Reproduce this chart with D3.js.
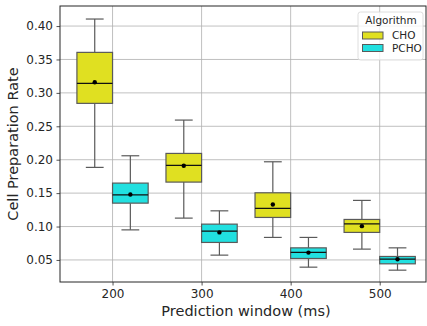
<!DOCTYPE html>
<html lang="en">
<head>
  <meta charset="UTF-8">
  <title>Cell Preparation Rate boxplot</title>
  <script src="https://d3js.org/d3.v7.min.js"></script>
  <style>
    body {
      margin: 0;
      background: #fff;
      font-family: "DejaVu Sans", sans-serif;
    }
    .grid line {
      stroke: #b0b0b0;
      stroke-width: 0.8px;
    }
    .tick text {
      font-size: 12px;
      fill: #262626;
    }
    .axis-label {
      font-size: 14.5px;
      fill: #262626;
    }
  </style>
</head>
<body>
  <div id="chart"></div>

  <script>
    const windows = ["200", "300", "400", "500"];
    const algorithms = ["CHO", "PCHO"];
    const yTicks = [0.05, 0.10, 0.15, 0.20, 0.25, 0.30, 0.35, 0.40];

    // per window: [whisker low, q1, median, q3, whisker high], plus mean
    const choStats = [
      [0.1885, 0.2843, 0.3142, 0.3606, 0.4105],
      [0.1126, 0.1665, 0.1915, 0.2094, 0.2593],
      [0.0837, 0.1136, 0.1271, 0.1505, 0.1969],
      [0.0662, 0.0912, 0.1041, 0.1106, 0.1391]
    ];
    const choMeans = [0.316, 0.191, 0.133, 0.1006];

    const pchoStats = [
      [0.0950, 0.1350, 0.1475, 0.1650, 0.2059],
      [0.0572, 0.0762, 0.0931, 0.1036, 0.1235],
      [0.0392, 0.0522, 0.0612, 0.0681, 0.0837],
      [0.0347, 0.0442, 0.0512, 0.0552, 0.0681]
    ];
    const pchoMeans = [0.148, 0.0912, 0.061, 0.051];

    const colors = { CHO: "#e0e021", PCHO: "#21e0e0" };

    const W = 427, H = 326;
    const margin = { top: 6, right: 1, bottom: 44, left: 60 };
    const width = W - margin.left - margin.right;
    const height = H - margin.top - margin.bottom;

    const svg = d3.select("#chart")
      .append("svg")
      .attr("width", W)
      .attr("height", H);

    const g = svg.append("g")
      .attr("transform", `translate(${margin.left},${margin.top})`);

    // categorical index -> x, seaborn style with dodge
    const x = d3.scaleLinear().domain([-0.59, 3.52]).range([0, width]);
    const y = d3.scaleLinear().domain([0.017, 0.43]).range([height, 0]);

    // grid
    g.append("g")
      .attr("class", "grid")
      .selectAll("line.h")
      .data(yTicks)
      .enter()
      .append("line")
      .attr("x1", 0)
      .attr("x2", width)
      .attr("y1", d => y(d))
      .attr("y2", d => y(d));

    g.select(".grid")
      .selectAll("line.v")
      .data(windows)
      .enter()
      .append("line")
      .attr("x1", (d, i) => x(i))
      .attr("x2", (d, i) => x(i))
      .attr("y1", 0)
      .attr("y2", height);

    const boxW = x(0.4) - x(0);
    const series = [
      { name: "CHO", stats: choStats, means: choMeans, offset: -0.2 },
      { name: "PCHO", stats: pchoStats, means: pchoMeans, offset: 0.2 }
    ];

    series.forEach(s => {
      const grp = g.append("g");
      s.stats.forEach((st, i) => {
        const cx = x(i + s.offset);
        const [lo, q1, med, q3, hi] = st;
        // whiskers
        grp.append("line")
          .attr("x1", cx).attr("x2", cx)
          .attr("y1", y(hi)).attr("y2", y(q3))
          .attr("stroke", "#5a5a5a").attr("stroke-width", 1.2);
        grp.append("line")
          .attr("x1", cx).attr("x2", cx)
          .attr("y1", y(q1)).attr("y2", y(lo))
          .attr("stroke", "#5a5a5a").attr("stroke-width", 1.2);
        // caps
        [lo, hi].forEach(v => {
          grp.append("line")
            .attr("x1", cx - boxW / 4).attr("x2", cx + boxW / 4)
            .attr("y1", y(v)).attr("y2", y(v))
            .attr("stroke", "#5a5a5a").attr("stroke-width", 1.2);
        });
        // box
        grp.append("rect")
          .attr("x", cx - boxW / 2)
          .attr("width", boxW)
          .attr("y", y(q3))
          .attr("height", y(q1) - y(q3))
          .attr("fill", colors[s.name])
          .attr("stroke", "#5a5a5a")
          .attr("stroke-width", 1.2);
        // median
        grp.append("line")
          .attr("x1", cx - boxW / 2).attr("x2", cx + boxW / 2)
          .attr("y1", y(med)).attr("y2", y(med))
          .attr("stroke", "#111").attr("stroke-width", 1.2);
        // mean
        grp.append("circle")
          .attr("cx", cx)
          .attr("cy", y(s.means[i]))
          .attr("r", 2.2)
          .attr("fill", "#000");
      });
    });

    // axes
    const yAxis = d3.axisLeft(y)
      .tickValues(yTicks)
      .tickFormat(d3.format(".2f"))
      .tickSize(3.5)
      .tickPadding(3.5);
    const yG = g.append("g").call(yAxis);

    const xAxis = d3.axisBottom(x)
      .tickValues(d3.range(windows.length))
      .tickFormat(i => windows[i])
      .tickSize(3.5)
      .tickPadding(3.5);
    const xG = g.append("g")
      .attr("transform", `translate(0,${height})`)
      .call(xAxis);

    [yG, xG].forEach(a => {
      a.select(".domain").remove();
      a.selectAll(".tick line").attr("stroke", "#262626").attr("stroke-width", 0.8);
      a.selectAll(".tick text").attr("font-family", "DejaVu Sans");
    });

    // frame
    g.append("rect")
      .attr("width", width)
      .attr("height", height)
      .attr("fill", "none")
      .attr("stroke", "#262626")
      .attr("stroke-width", 1);

    // axis labels
    svg.append("text")
      .attr("class", "axis-label")
      .attr("x", 246)
      .attr("y", H - 10)
      .attr("text-anchor", "middle")
      .text("Prediction window (ms)");

    svg.append("text")
      .attr("class", "axis-label")
      .attr("transform", `translate(18,${margin.top + height / 2}) rotate(-90)`)
      .attr("text-anchor", "middle")
      .text("Cell Preparation Rate");

    // legend
    const lg = svg.append("g").attr("transform", "translate(358,12)");
    lg.append("rect")
      .attr("width", 65)
      .attr("height", 48)
      .attr("rx", 2.5)
      .attr("fill", "rgba(255,255,255,0.8)")
      .attr("stroke", "#d6d6d6")
      .attr("stroke-width", 0.8);
    lg.append("text")
      .attr("x", 33)
      .attr("y", 12)
      .attr("text-anchor", "middle")
      .attr("font-size", "10.5px")
      .attr("fill", "#262626")
      .text("Algorithm");
    algorithms.forEach((a, i) => {
      lg.append("rect")
        .attr("x", 4.5)
        .attr("y", 20 + i * 12.5)
        .attr("width", 20.5)
        .attr("height", 7)
        .attr("fill", colors[a])
        .attr("stroke", "#5a5a5a")
        .attr("stroke-width", 1);
      lg.append("text")
        .attr("x", 34)
        .attr("y", 27 + i * 12.5)
        .attr("font-size", "10.5px")
        .attr("fill", "#262626")
        .text(a);
    });
  </script>
</body>
</html>
